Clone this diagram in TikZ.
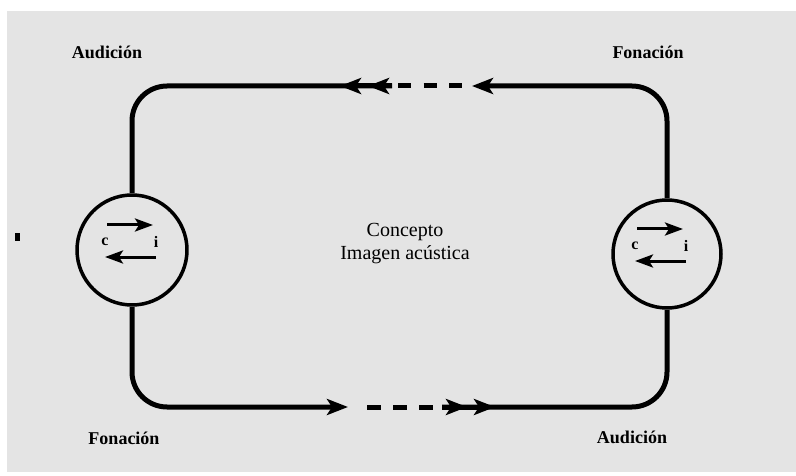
\documentclass[tikz,border=0pt]{standalone}
\usepackage{fontspec}
\setmainfont{Liberation Serif}
\usetikzlibrary{arrows.meta}
\definecolor{bggray}{HTML}{E4E4E4}
\begin{document}
\begin{tikzpicture}[x=1pt,y=-1pt,line join=round,
    loopline/.style={line width=5pt,rounded corners=35pt},
    onehead/.style={-{Stealth[length=21pt,width=16pt,inset=5pt]}},
    twohead/.style={-{Stealth[length=21pt,width=16pt,inset=5pt,sep=7pt]Stealth[length=21pt,width=16pt,inset=5pt]}},
    smallhead/.style={line width=3pt,-{Stealth[length=18pt,width=13pt,inset=4pt]}},
    organ/.style={circle,draw,line width=3.5pt,inner sep=0pt},
    lab/.style={font=\fontsize{18}{21}\selectfont\bfseries},
    mid/.style={font=\fontsize{20}{23}\selectfont,align=center},
    ci/.style={font=\fontsize{16}{18}\selectfont\bfseries}]
  % page
  \fill[white] (0,0) rectangle (796,476);
  \fill[bggray] (7,11) rectangle (796,472);
  \fill (15,233) rectangle (20,241);
  % the two circles
  \node[organ,minimum size=110pt] (lc) at (132,250) {};
  \node[organ,minimum size=108pt] (rc) at (667,254) {};
  \foreach \n/\dx in {lc/2,rc/-3}{
    \draw[smallhead] ([shift={(-27+\dx,-25)}]\n.center) -- ([shift={(19+\dx,-25)}]\n.center);
    \draw[smallhead] ([shift={(22+\dx,7)}]\n.center) -- ([shift={(-29+\dx,7)}]\n.center);
    \node[ci] (\n c) at ([shift={(-29+\dx,-8)}]\n.center) {c};
    \node[ci] (\n i) at ([shift={(22+\dx,-8)}]\n.center) {i};
  }
  % top branch
  \coordinate (tl) at (340,86);
  \coordinate (tm) at (392,86);
  \coordinate (tdl) at (398,86);
  \coordinate (tdr) at (462,86);
  \coordinate (tr) at (472,86);
  \draw[loopline] (lc.north) |- (tm);
  \draw[line width=5pt,twohead] (tm) -- (tl);
  \draw[line width=5pt,dash pattern=on 13pt off 12.5pt] (tdl) -- (tdr);
  \draw[loopline,onehead] (rc.north) |- (tr);
  % bottom branch
  \coordinate (bl) at (348,407);
  \coordinate (bdl) at (367,407);
  \coordinate (bdr) at (437,407);
  \coordinate (bm) at (442,407);
  \coordinate (br) at (495,407);
  \draw[loopline,onehead] (lc.south) |- (bl);
  \draw[line width=5pt,dash pattern=on 13.5pt off 12.5pt] (bdl) -- (bdr);
  \draw[loopline] (bm) -| (rc.south);
  \draw[line width=5pt,twohead] (bm) -- (br);
  % labels
  \node[lab] (au1) at (107,52) {Audición};
  \node[lab] (fo1) at (648,52) {Fonación};
  \node[lab] (fo2) at (124,438) {Fonación};
  \node[lab] (au2) at (632,437) {Audición};
  \node[mid] (cpt) at (405,244) {Concepto\\Imagen acústica};
\end{tikzpicture}
\end{document}
